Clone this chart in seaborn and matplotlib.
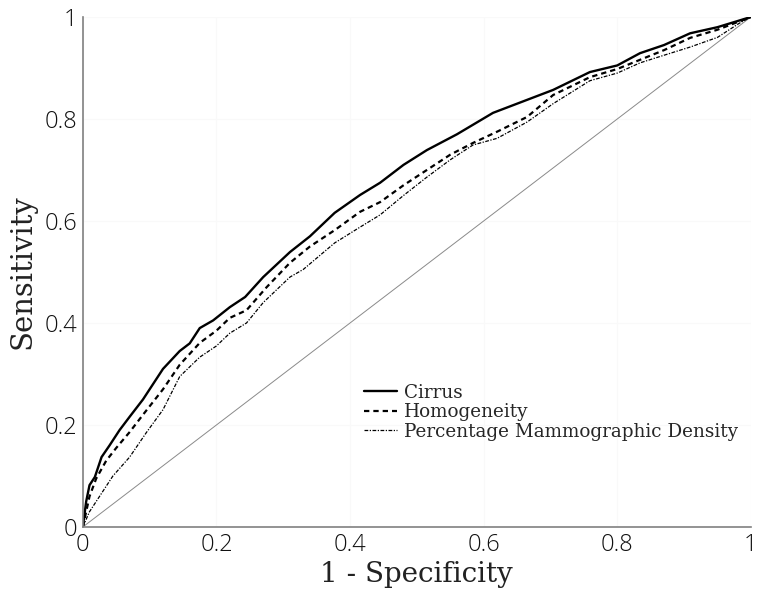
import numpy as np
import pandas as pd
import seaborn as sns
import matplotlib.pyplot as plt

# ROC curves (1 - specificity, sensitivity)
cirrus_fpr = [0, 0.005, 0.01, 0.018, 0.028, 0.04, 0.055, 0.07, 0.09, 0.12, 0.145,
              0.16, 0.175, 0.195, 0.22, 0.243, 0.27, 0.31, 0.34, 0.377, 0.415, 0.445,
              0.48, 0.515, 0.56, 0.614, 0.66, 0.704, 0.759, 0.8, 0.834, 0.87, 0.909,
              0.95, 0.975, 1.0]
cirrus_tpr = [0, 0.05, 0.082, 0.098, 0.137, 0.16, 0.19, 0.216, 0.25, 0.31, 0.345,
              0.36, 0.39, 0.405, 0.431, 0.451, 0.49, 0.539, 0.57, 0.616, 0.651, 0.675,
              0.71, 0.739, 0.77, 0.812, 0.835, 0.857, 0.892, 0.905, 0.929, 0.945, 0.968,
              0.98, 0.99, 1.0]

homog_fpr = [0, 0.01, 0.02, 0.035, 0.05, 0.07, 0.09, 0.12, 0.145, 0.175, 0.2, 0.22,
             0.245, 0.275, 0.31, 0.34, 0.377, 0.415, 0.445, 0.48, 0.515, 0.55, 0.584,
             0.62, 0.665, 0.704, 0.759, 0.8, 0.834, 0.87, 0.909, 0.95, 1.0]
homog_tpr = [0, 0.06, 0.095, 0.13, 0.155, 0.186, 0.22, 0.27, 0.318, 0.361, 0.385, 0.41,
             0.425, 0.47, 0.518, 0.55, 0.582, 0.618, 0.637, 0.67, 0.70, 0.73, 0.753,
             0.775, 0.804, 0.847, 0.882, 0.898, 0.916, 0.935, 0.959, 0.975, 1.0]

pmd_fpr = [0, 0.01, 0.025, 0.045, 0.07, 0.095, 0.12, 0.145, 0.175, 0.2, 0.22, 0.245,
           0.27, 0.29, 0.31, 0.33, 0.377, 0.415, 0.445, 0.48, 0.515, 0.55, 0.584, 0.62,
           0.665, 0.704, 0.759, 0.8, 0.834, 0.87, 0.909, 0.95, 0.983, 1.0]
pmd_tpr = [0, 0.03, 0.06, 0.1, 0.137, 0.185, 0.23, 0.295, 0.333, 0.355, 0.38, 0.40,
           0.44, 0.465, 0.49, 0.505, 0.557, 0.588, 0.612, 0.65, 0.686, 0.72, 0.749, 0.762,
           0.794, 0.83, 0.875, 0.89, 0.91, 0.925, 0.941, 0.96, 0.988, 1.0]

labels = ["Cirrus", "Homogeneity", "Percentage Mammographic Density"]
ticks = [0, 0.2, 0.4, 0.6, 0.8, 1]
tick_labels = ["0", "0.2", "0.4", "0.6", "0.8", "1"]

sns.set_style("white")
plt.rcParams["font.family"] = ["DejaVu Serif"]

fig = plt.figure(figsize=(7.6, 6), dpi=100)
ax = fig.add_axes([0.109, 0.1217, 0.879, 0.85])

# chance line
sns.lineplot(x=[0, 1], y=[0, 1], ax=ax, color="#8a8a8a", linewidth=0.7)

series = [
    (cirrus_fpr, cirrus_tpr, dict(linestyle="-", linewidth=1.7)),
    (homog_fpr, homog_tpr, dict(linestyle=(0, (2.4, 1.8)), linewidth=1.6)),
    (pmd_fpr, pmd_tpr, dict(linestyle=(0, (3, 1.2, 1, 1.2)), linewidth=0.9)),
]
for (fpr, tpr, style), name in zip(series, labels):
    df = pd.DataFrame({"fpr": fpr, "tpr": tpr})
    sns.lineplot(data=df, x="fpr", y="tpr", ax=ax, color="black", sort=False,
                 estimator=None, label=name, **style)

ax.set_xlim(0, 1)
ax.set_ylim(0, 1)
ax.set_xticks(ticks)
ax.set_yticks(ticks)
ax.set_xticklabels(tick_labels, family="Open Sans", fontweight=300, fontsize=17, color="#111111")
ax.set_yticklabels(tick_labels, family="Open Sans", fontweight=300, fontsize=17, color="#111111")
ax.tick_params(direction="in", length=4, width=0.8, color="#808080", pad=4)
ax.grid(True, color="#f9f9f9", linewidth=0.8)

for side in ["top", "right"]:
    ax.spines[side].set_visible(False)
for side in ["left", "bottom"]:
    ax.spines[side].set_color("#808080")
    ax.spines[side].set_linewidth(1.2)

ax.set_xlabel("1 - Specificity", fontsize=20, color="#222222", labelpad=3)
ax.set_ylabel("Sensitivity", fontsize=21, color="#222222", labelpad=6)

ax.legend(loc="upper left", bbox_to_anchor=(0.41, 0.295), frameon=False,
          fontsize=13.2, handlelength=1.8, handletextpad=0.4, labelspacing=0.08,
          borderaxespad=0)

fig.savefig("out.png", dpi=100)
